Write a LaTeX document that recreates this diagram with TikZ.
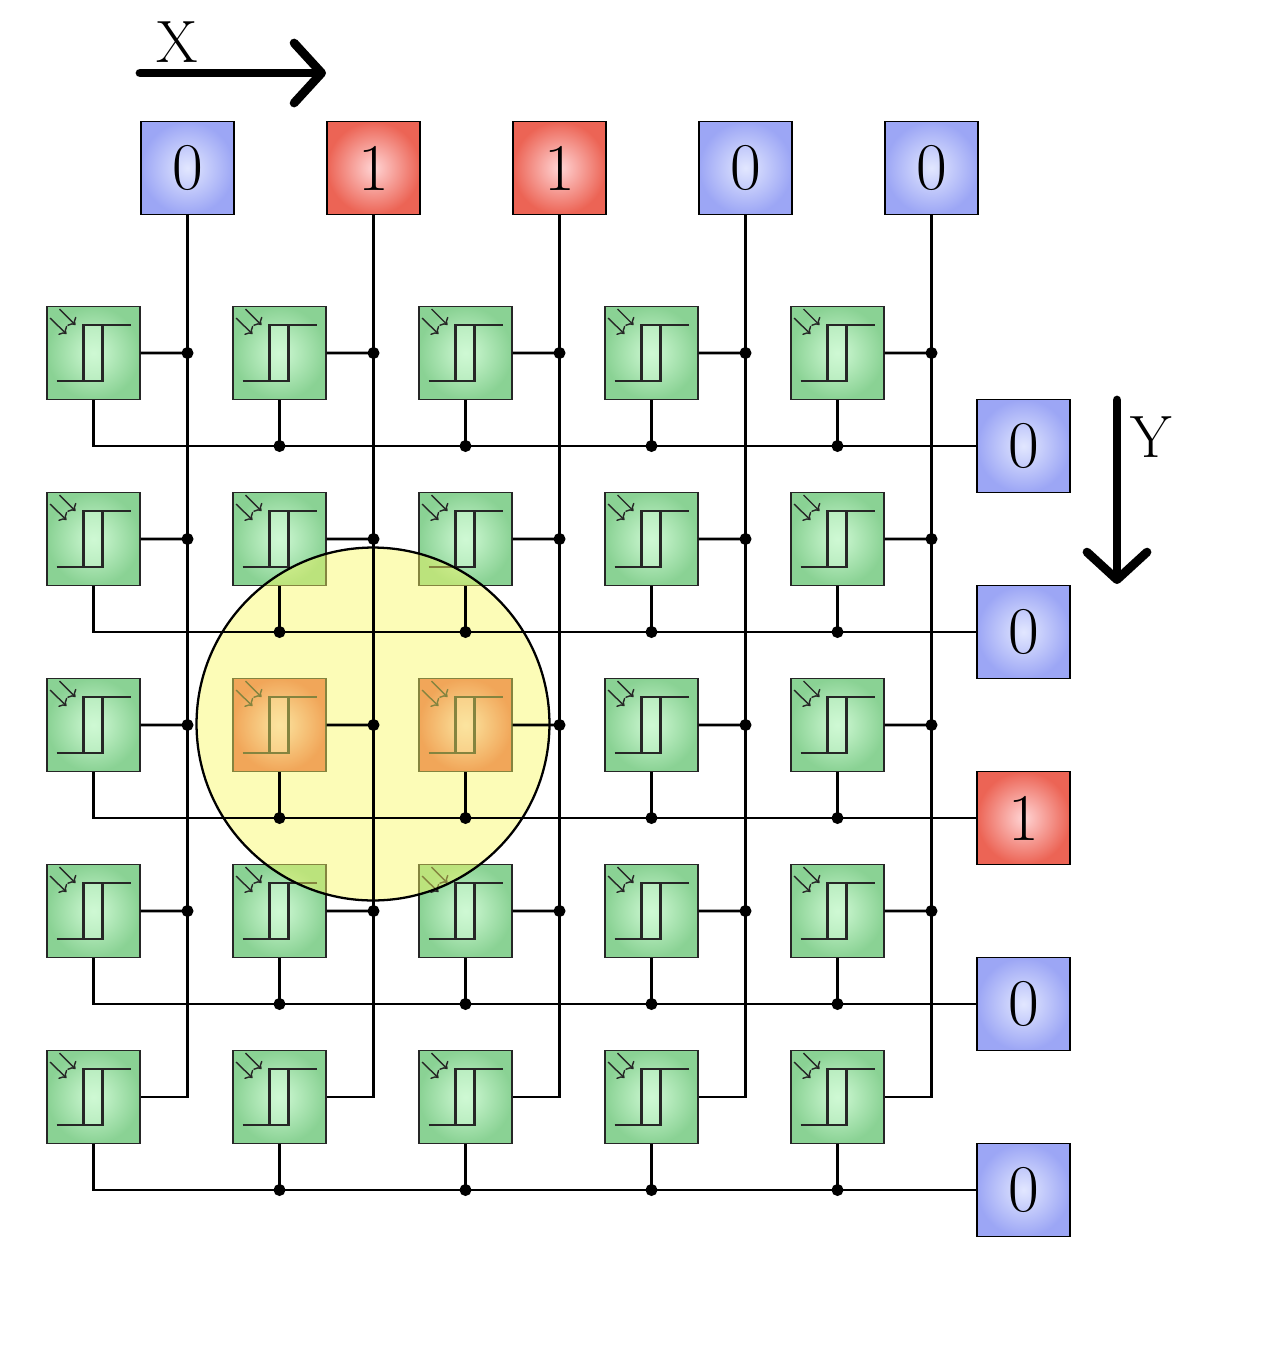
\documentclass[tikz,border=0pt]{standalone}
\usepackage{tikz}
\usetikzlibrary{arrows.meta,calc}
\definecolor{greencenter}{HTML}{CFF9D4}
\definecolor{greenedge}{HTML}{8AD294}
\definecolor{redcenter}{HTML}{FFD4D4}
\definecolor{rededge}{HTML}{EC6455}
\definecolor{bluecenter}{HTML}{E2E7FF}
\definecolor{blueedge}{HTML}{9CA6F5}
\definecolor{zonecolor}{HTML}{F8F85F}

\tikzset{
  valbox/.style={draw, line width=0.8pt, rectangle, shading=radial, inner color=#1center, outer color=#1edge,
    minimum size=1.86cm, inner sep=0pt, font=\fontsize{38pt}{38pt}\selectfont},
  cellbox/.style={draw=black!85, line width=0.8pt, rectangle, shading=radial, inner color=#1center, outer color=#1edge,
    minimum size=1.86cm, inner sep=0pt,
    path picture={
      \begin{scope}[shift={(path picture bounding box.center)}]
        \fill[#1center, fill opacity=0.5] (-10,-28) rectangle (9,28);
        \draw[line width=1.6pt] (37,-28) -- (-10,-28) -- (-10,28);
        \draw[line width=1.6pt] (-37,28) -- (9,28) -- (9,-28);
        \draw[line width=0.8pt,->] (-34,-44) -- (-18,-28);
        \draw[line width=0.8pt,->] (-43.5,-35) -- (-27,-19);
      \end{scope}}},
  wire/.style={line width=1.6pt},
  tap/.style={wire, fill=black},
  axisarrow/.style={line width=5pt, line cap=round, -{Straight Barb[length=0.55cm,width=1.2cm,round]}},
  axislabel/.style={font=\fontsize{34pt}{34pt}\selectfont, inner sep=0pt},
}

\begin{document}
\begin{tikzpicture}[x=0.02cm, y=-0.02cm]%
\useasboundingbox (0,0) rectangle (1280,1350);%
% X inputs
\node[valbox=blue] (xb1) at (187.5,168) {0};%
\node[valbox=red] (xb2) at (373.5,168) {1};%
\node[valbox=red] (xb3) at (559.5,168) {1};%
\node[valbox=blue] (xb4) at (745.5,168) {0};%
\node[valbox=blue] (xb5) at (931.5,168) {0};%
% Y inputs
\node[valbox=blue] (yb1) at (1023.5,446) {0};%
\node[valbox=blue] (yb2) at (1023.5,632) {0};%
\node[valbox=red] (yb3) at (1023.5,818) {1};%
\node[valbox=blue] (yb4) at (1023.5,1004) {0};%
\node[valbox=blue] (yb5) at (1023.5,1190) {0};%
% cells
\node[cellbox=green] (c11) at (93.5,353) {};%
\node[cellbox=green] (c12) at (279.5,353) {};%
\node[cellbox=green] (c13) at (465.5,353) {};%
\node[cellbox=green] (c14) at (651.5,353) {};%
\node[cellbox=green] (c15) at (837.5,353) {};%
\node[cellbox=green] (c21) at (93.5,539) {};%
\node[cellbox=green] (c22) at (279.5,539) {};%
\node[cellbox=green] (c23) at (465.5,539) {};%
\node[cellbox=green] (c24) at (651.5,539) {};%
\node[cellbox=green] (c25) at (837.5,539) {};%
\node[cellbox=green] (c31) at (93.5,725) {};%
\node[cellbox=red] (c32) at (279.5,725) {};%
\node[cellbox=red] (c33) at (465.5,725) {};%
\node[cellbox=green] (c34) at (651.5,725) {};%
\node[cellbox=green] (c35) at (837.5,725) {};%
\node[cellbox=green] (c41) at (93.5,911) {};%
\node[cellbox=green] (c42) at (279.5,911) {};%
\node[cellbox=green] (c43) at (465.5,911) {};%
\node[cellbox=green] (c44) at (651.5,911) {};%
\node[cellbox=green] (c45) at (837.5,911) {};%
\node[cellbox=green] (c51) at (93.5,1097) {};%
\node[cellbox=green] (c52) at (279.5,1097) {};%
\node[cellbox=green] (c53) at (465.5,1097) {};%
\node[cellbox=green] (c54) at (651.5,1097) {};%
\node[cellbox=green] (c55) at (837.5,1097) {};%
% selected zone
\node[circle, draw, line width=1.3pt, fill=zonecolor, fill opacity=0.45, minimum size=7.06cm, inner sep=0pt] (zone) at (373,724) {};%
% column lines
\draw[wire] (xb1.south) |- (c51.east);%
\draw[wire] (xb2.south) |- (c52.east);%
\draw[wire] (xb3.south) |- (c53.east);%
\draw[wire] (xb4.south) |- (c54.east);%
\draw[wire] (xb5.south) |- (c55.east);%
\draw[tap] (c11.east) -- (c11.east -| xb1.south) circle[radius=0.09cm];%
\draw[tap] (c12.east) -- (c12.east -| xb2.south) circle[radius=0.09cm];%
\draw[tap] (c13.east) -- (c13.east -| xb3.south) circle[radius=0.09cm];%
\draw[tap] (c14.east) -- (c14.east -| xb4.south) circle[radius=0.09cm];%
\draw[tap] (c15.east) -- (c15.east -| xb5.south) circle[radius=0.09cm];%
\draw[tap] (c21.east) -- (c21.east -| xb1.south) circle[radius=0.09cm];%
\draw[tap] (c22.east) -- (c22.east -| xb2.south) circle[radius=0.09cm];%
\draw[tap] (c23.east) -- (c23.east -| xb3.south) circle[radius=0.09cm];%
\draw[tap] (c24.east) -- (c24.east -| xb4.south) circle[radius=0.09cm];%
\draw[tap] (c25.east) -- (c25.east -| xb5.south) circle[radius=0.09cm];%
\draw[tap] (c31.east) -- (c31.east -| xb1.south) circle[radius=0.09cm];%
\draw[tap] (c32.east) -- (c32.east -| xb2.south) circle[radius=0.09cm];%
\draw[tap] (c33.east) -- (c33.east -| xb3.south) circle[radius=0.09cm];%
\draw[tap] (c34.east) -- (c34.east -| xb4.south) circle[radius=0.09cm];%
\draw[tap] (c35.east) -- (c35.east -| xb5.south) circle[radius=0.09cm];%
\draw[tap] (c41.east) -- (c41.east -| xb1.south) circle[radius=0.09cm];%
\draw[tap] (c42.east) -- (c42.east -| xb2.south) circle[radius=0.09cm];%
\draw[tap] (c43.east) -- (c43.east -| xb3.south) circle[radius=0.09cm];%
\draw[tap] (c44.east) -- (c44.east -| xb4.south) circle[radius=0.09cm];%
\draw[tap] (c45.east) -- (c45.east -| xb5.south) circle[radius=0.09cm];%
% row lines
\draw[wire] (c11.south) |- (yb1.west);%
\draw[wire] (c21.south) |- (yb2.west);%
\draw[wire] (c31.south) |- (yb3.west);%
\draw[wire] (c41.south) |- (yb4.west);%
\draw[wire] (c51.south) |- (yb5.west);%
\draw[tap] (c12.south) -- (c12.south |- yb1.west) circle[radius=0.09cm];%
\draw[tap] (c13.south) -- (c13.south |- yb1.west) circle[radius=0.09cm];%
\draw[tap] (c14.south) -- (c14.south |- yb1.west) circle[radius=0.09cm];%
\draw[tap] (c15.south) -- (c15.south |- yb1.west) circle[radius=0.09cm];%
\draw[tap] (c22.south) -- (c22.south |- yb2.west) circle[radius=0.09cm];%
\draw[tap] (c23.south) -- (c23.south |- yb2.west) circle[radius=0.09cm];%
\draw[tap] (c24.south) -- (c24.south |- yb2.west) circle[radius=0.09cm];%
\draw[tap] (c25.south) -- (c25.south |- yb2.west) circle[radius=0.09cm];%
\draw[tap] (c32.south) -- (c32.south |- yb3.west) circle[radius=0.09cm];%
\draw[tap] (c33.south) -- (c33.south |- yb3.west) circle[radius=0.09cm];%
\draw[tap] (c34.south) -- (c34.south |- yb3.west) circle[radius=0.09cm];%
\draw[tap] (c35.south) -- (c35.south |- yb3.west) circle[radius=0.09cm];%
\draw[tap] (c42.south) -- (c42.south |- yb4.west) circle[radius=0.09cm];%
\draw[tap] (c43.south) -- (c43.south |- yb4.west) circle[radius=0.09cm];%
\draw[tap] (c44.south) -- (c44.south |- yb4.west) circle[radius=0.09cm];%
\draw[tap] (c45.south) -- (c45.south |- yb4.west) circle[radius=0.09cm];%
\draw[tap] (c52.south) -- (c52.south |- yb5.west) circle[radius=0.09cm];%
\draw[tap] (c53.south) -- (c53.south |- yb5.west) circle[radius=0.09cm];%
\draw[tap] (c54.south) -- (c54.south |- yb5.west) circle[radius=0.09cm];%
\draw[tap] (c55.south) -- (c55.south |- yb5.west) circle[radius=0.09cm];%
% axes
\coordinate (xfrom) at (140,73);%
\coordinate (xto) at (326,73);%
\draw[axisarrow] (xfrom) -- (xto);%
\node[axislabel] (xlabel) at (177,42) {X};%
\coordinate (yfrom) at (1117,400);%
\coordinate (yto) at (1117,584);%
\draw[axisarrow] (yfrom) -- (yto);%
\node[axislabel] (ylabel) at (1151,437) {Y};%
\end{tikzpicture}
\end{document}
